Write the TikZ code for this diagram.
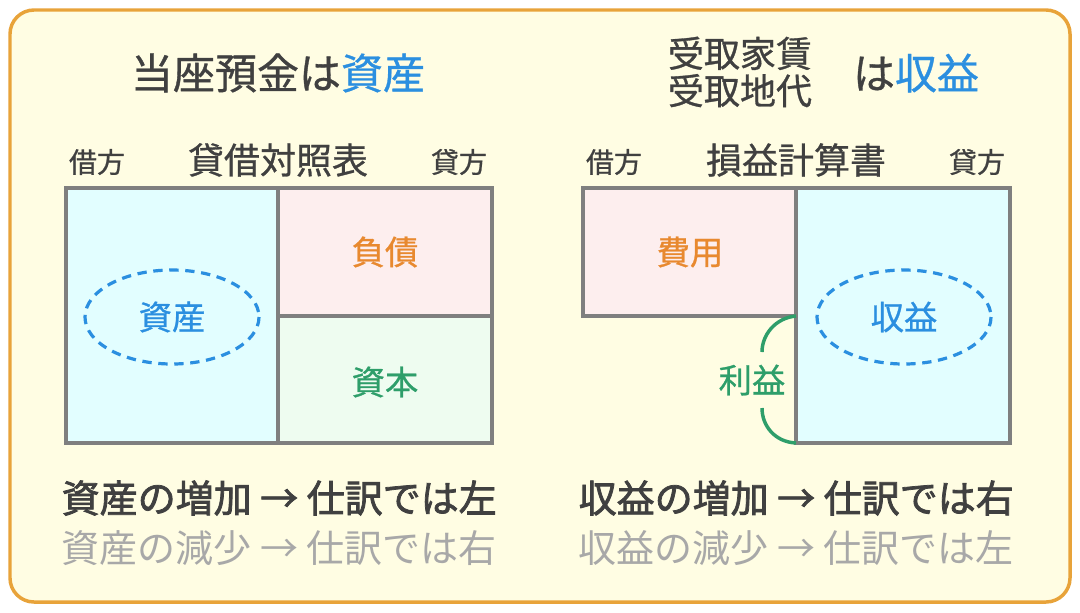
\documentclass[tikz,border=0pt]{standalone}
\usepackage{fontspec}
\setmainfont{Noto Sans CJK JP}
\newfontfamily\boldjp[FakeBold=2]{Noto Sans CJK JP}
\newfontfamily\medjp[FakeBold=0.8]{Noto Sans CJK JP}
\definecolor{bord}{HTML}{E8A33A}
\definecolor{bg}{HTML}{FFFDE3}
\definecolor{blu}{HTML}{2B8FE0}
\definecolor{org}{HTML}{E8892F}
\definecolor{grn}{HTML}{2E9E6A}
\definecolor{dk}{HTML}{404040}
\definecolor{lg}{HTML}{A8A8A8}
\definecolor{cy}{HTML}{E2FEFF}
\definecolor{pk}{HTML}{FDEEEE}
\definecolor{mn}{HTML}{EEFCF0}
\definecolor{gb}{HTML}{7F7F7F}
\begin{document}
\begin{tikzpicture}[x=0.75pt,y=-0.75pt,
  cell/.style={draw=gb,line width=2.6pt},
  ttl/.style={font=\medjp\fontsize{31.5}{34}\selectfont,text=dk},
  sttl/.style={font=\medjp\fontsize{27}{30}\selectfont,text=dk},
  side/.style={font=\medjp\fontsize{21}{24}\selectfont,text=dk},
  lab/.style={font=\medjp\fontsize{25}{28}\selectfont},
  foot/.style={font=\fontsize{28.5}{32}\selectfont,anchor=west},
  ell/.style={draw=blu,line width=2.4pt,dash pattern=on 7pt off 5pt}]
\useasboundingbox (0,0) rectangle (1080,612);
\draw[bord,fill=bg,line width=2.6pt,rounded corners=18pt] (10,10) rectangle (1070,602);
% left
\node[ttl] (t1) at (278,73) {当座預金は\textcolor{blu}{資産}};
\node[side] (l1) at (97,162) {借方};
\node[sttl] (l2) at (278,160) {貸借対照表};
\node[side] (l3) at (459,162) {貸方};
\draw[cell,fill=cy] (66,188) rectangle (278,443);
\draw[cell,fill=pk] (278,188) rectangle (492,316);
\draw[cell,fill=mn] (278,316) rectangle (492,443);
\draw[ell] (172,317) ellipse [x radius=87,y radius=47];
\node[lab,text=blu] (a1) at (172,317) {資産};
\node[lab,text=org] (a2) at (385,252) {負債};
\node[lab,text=grn] (a3) at (385,382) {資本};
\node[foot,text=dk] (f1) at (57,498) {\boldjp 資産の増加 → 仕訳では左};
\node[foot,text=lg] (f2) at (57,548) {資産の減少 → 仕訳では右};
% right
\node[sttl,align=center] (t2) at (740,72) {受取家賃\\[-2pt]受取地代};
\node[ttl] (t3) at (916,73) {は\textcolor{blu}{収益}};
\node[side] (r1) at (614,162) {借方};
\node[sttl] (r2) at (796,160) {損益計算書};
\node[side] (r3) at (977,162) {貸方};
\draw[cell,fill=pk] (583,188) rectangle (796,316);
\draw[cell,fill=cy] (796,188) rectangle (1010,443);
\draw[ell] (904,317) ellipse [x radius=87,y radius=47];
\node[lab,text=blu] (b1) at (904,317) {収益};
\node[lab,text=org] (b2) at (690,252) {費用};
\node[lab,text=grn] (b3) at (752,380) {利益};
\draw[grn,line width=2.6pt] (796,316) .. controls (775,318) and (762,335) .. (762,352);
\draw[grn,line width=2.6pt] (762,408) .. controls (762,426) and (775,442) .. (796,443);
\node[foot,text=dk] (g1) at (574,498) {\boldjp 収益の増加 → 仕訳では右};
\node[foot,text=lg] (g2) at (574,548) {収益の減少 → 仕訳では左};
\end{tikzpicture}
\end{document}
